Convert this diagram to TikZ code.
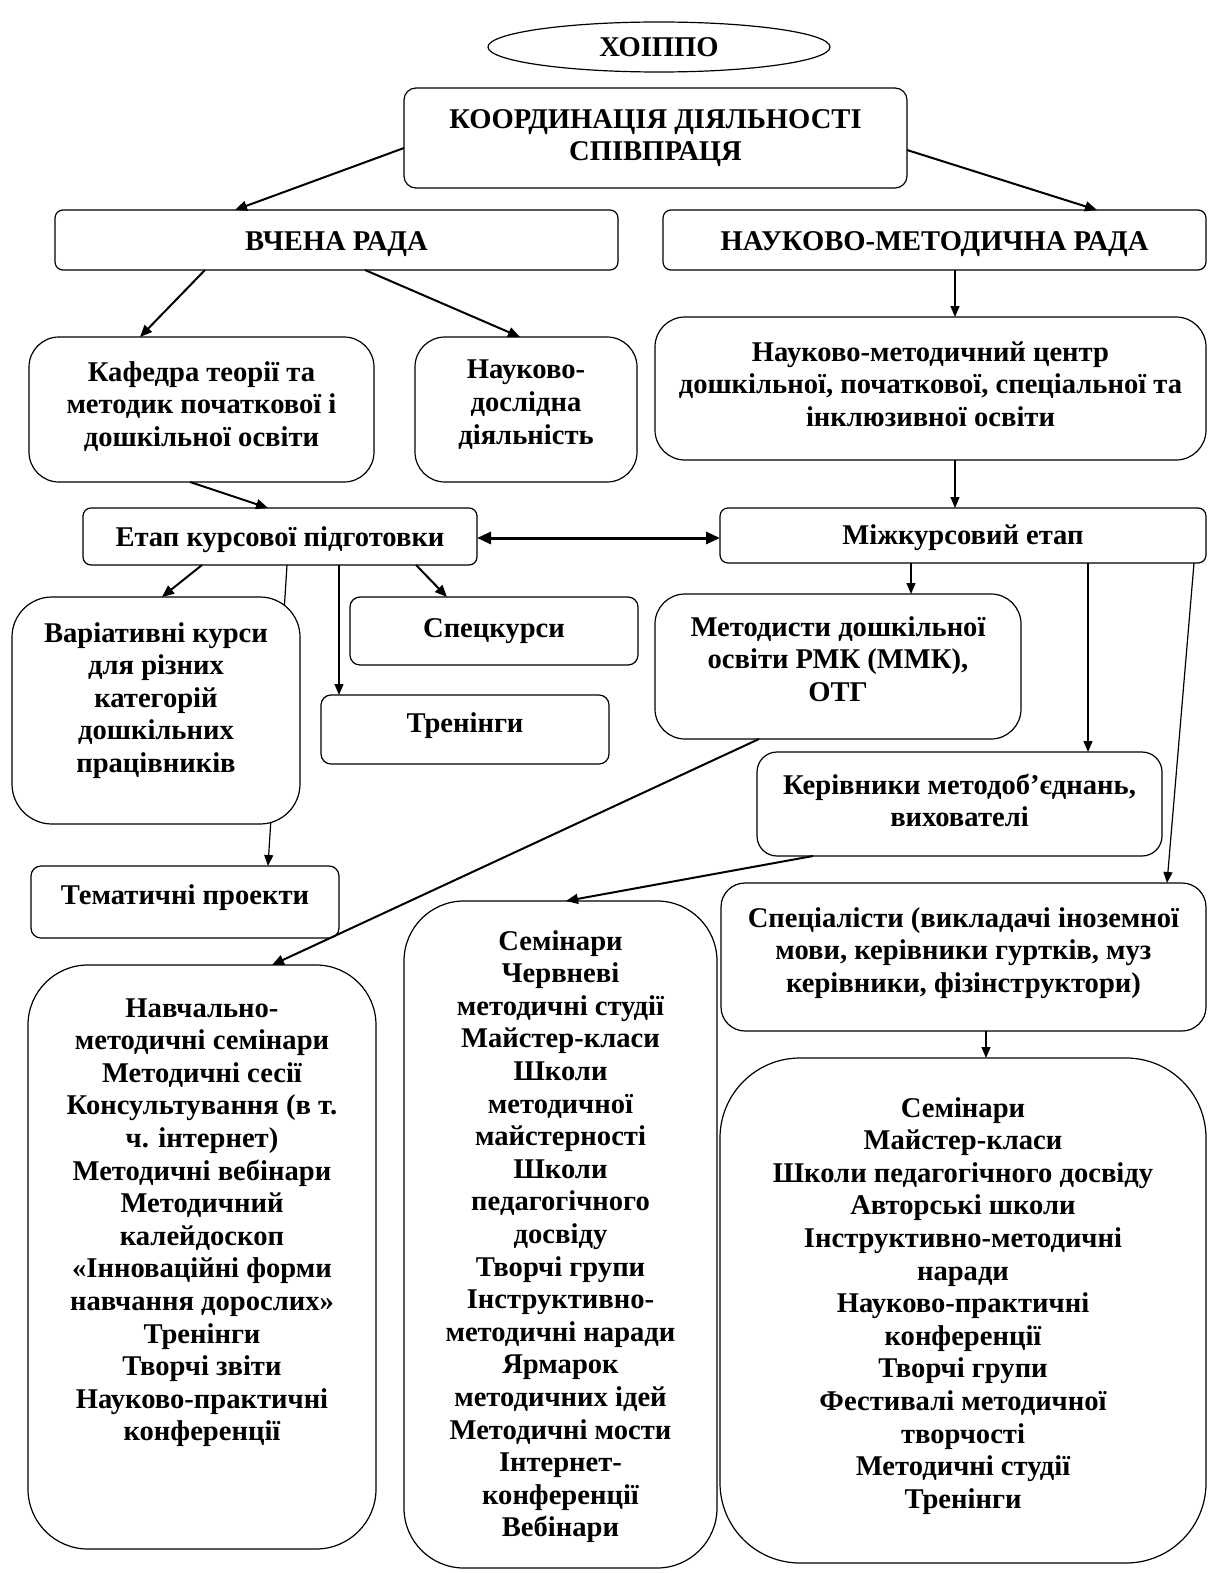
\documentclass[tikz,border=0pt]{standalone}
\usepackage{fontspec}
\setmainfont{Liberation Serif}
\usetikzlibrary{arrows.meta,calc,shapes.geometric}
\pgfdeclarelayer{bg}
\pgfsetlayers{bg,main}
\newcommand\bx[8]{%
  \node[bxs,#7,anchor=north west] (#1) at (#2,#3)
   {\parbox[c][\dimexpr(#5pt-#3pt)/2\relax][t]{\dimexpr(#4pt-#2pt)/2\relax}{\centering\vspace*{#6pt}\strut#8\par}};}
\begin{document}
\begin{tikzpicture}[x=0.5pt,y=-0.5pt,
  txt/.style={font=\fontsize{14.3pt}{16.3pt}\selectfont\bfseries},
  bxs/.style={draw,fill=white,line width=0.6pt,inner sep=0pt,outer sep=0pt,txt},
  ark/.style={-{Triangle[length=6pt,width=5pt]},line width=1pt},
  art/.style={-{Triangle[length=5.5pt,width=4.5pt]},line width=0.6pt}]
\useasboundingbox (0,0) rectangle (1208,1573);
\node[draw,ellipse,line width=0.6pt,minimum width=171pt,minimum height=25pt,inner sep=0pt,txt] (ho) at (659,47) {ХОІППО};
\bx{coord}{404}{88}{907}{188}{8.6}{rounded corners=6pt}{КООРДИНАЦІЯ ДІЯЛЬНОСТІ\\СПІВПРАЦЯ}
\bx{vr}{55}{210}{618}{270}{8.6}{rounded corners=4pt}{ВЧЕНА РАДА}
\bx{nmr}{663}{210}{1206}{270}{8.6}{rounded corners=4pt}{НАУКОВО-МЕТОДИЧНА РАДА}
\bx{kaf}{29}{337}{374}{482}{10.6}{rounded corners=15pt}{Кафедра теорії та\\методик початкової і\\дошкільної освіти}
\bx{nd}{415}{337}{637}{482}{9.5}{rounded corners=15pt}{Науково-\\дослідна\\діяльність}
\bx{nmc}{655}{317}{1206}{460}{10.6}{rounded corners=15pt}{Науково-методичний центр\\дошкільної, початкової, спеціальної та\\інклюзивної освіти}
\bx{etap}{83}{508}{477}{565}{7.6}{rounded corners=4pt}{Етап курсової підготовки}
\bx{mizh}{720}{508}{1206}{563}{6.6}{rounded corners=4pt}{Міжкурсовий етап}
\bx{var}{12}{597}{300}{824}{11.1}{rounded corners=20pt}{Варіативні курси\\для різних\\категорій\\дошкільних\\працівників}
\bx{spec}{350}{597}{638}{665}{8.6}{rounded corners=5pt}{Спецкурси}
\bx{tren}{321}{695}{609}{764}{7.1}{rounded corners=5pt}{Тренінги}
\bx{metod}{655}{594}{1021}{739}{9.6}{rounded corners=15pt}{Методисти дошкільної\\освіти РМК (ММК),\\ОТГ}
\bx{ker}{757}{752}{1162}{856}{9.6}{rounded corners=10pt}{Керівники методоб’єднань,\\вихователі}
\bx{tema}{31}{866}{339}{938}{7.6}{rounded corners=5pt}{Тематичні проекти}
\bx{spets}{721}{883}{1206}{1031}{10.6}{rounded corners=12pt}{Спеціалісти (викладачі іноземної\\мови, керівники гуртків, муз\\керівники, фізінструктори)}
\bx{navch}{28}{965}{376}{1549}{14.6}{rounded corners=30pt}{Навчально-\\методичні семінари\\Методичні сесії\\Консультування (в т.\\ч. інтернет)\\Методичні вебінари\\Методичний\\калейдоскоп\\«Інноваційні форми\\навчання дорослих»\\Тренінги\\Творчі звіти\\Науково-практичні\\конференції}
\bx{mid}{404}{901}{717}{1568}{13.1}{rounded corners=30pt}{Семінари\\Червневі\\методичні студії\\Майстер-класи\\Школи\\методичної\\майстерності\\Школи\\педагогічного\\досвіду\\Творчі групи\\Інструктивно-\\методичні наради\\Ярмарок\\методичних ідей\\Методичні мости\\Інтернет-\\конференції\\Вебінари}
\bx{br}{720}{1058}{1206}{1563}{18.1}{rounded corners=40pt}{Семінари\\Майстер-класи\\Школи педагогічного досвіду\\Авторські школи\\Інструктивно-методичні\\наради\\Науково-практичні\\конференції\\Творчі групи\\Фестивалі методичної\\творчості\\Методичні студії\\Тренінги}
% connectors
\begin{pgfonlayer}{bg}
\draw[art] ($(etap.south west)+(204,0)$) -- ($(tema.north west)+(237,0)$);
\end{pgfonlayer}
\draw[ark] ($(coord.south west)+(0,-40)$) -- ($(vr.north west)+(180,0)$);
\draw[ark] ($(coord.south east)+(0,-38)$) -- ($(nmr.north west)+(434,0)$);
\draw[ark] ($(vr.south west)+(150,0)$) -- ($(kaf.north west)+(111,0)$);
\draw[ark] ($(vr.south west)+(310,0)$) -- ($(nd.north west)+(105,0)$);
\draw[art] ($(nmr.south west)+(292,0)$) -- ($(nmc.north west)+(300,0)$);
\draw[ark] ($(kaf.south west)+(161,0)$) -- ($(etap.north west)+(185,0)$);
\draw[art] ($(nmc.south west)+(300,0)$) -- ($(mizh.north west)+(235,0)$);
\draw[{Triangle[length=7pt,width=6pt]}-{Triangle[length=7pt,width=6pt]},line width=1.5pt] ($(etap.north east)+(0,30)$) -- ($(mizh.north west)+(0,30)$);
\draw[ark] ($(etap.south west)+(119,0)$) -- ($(var.north west)+(150,0)$);
\draw[art] ($(etap.south west)+(256,0)$) -- ($(tren.north west)+(18,0)$);
\draw[ark] ($(etap.south west)+(333,0)$) -- ($(spec.north west)+(97,0)$);
\draw[art] ($(mizh.south west)+(191,0)$) -- ($(metod.north west)+(256,0)$);
\draw[art] ($(mizh.south west)+(368,0)$) -- ($(ker.north west)+(331,0)$);
\draw[art] ($(mizh.south west)+(474,0)$) -- ($(spets.north west)+(446,0)$);
\draw[ark] ($(metod.south west)+(104,0)$) -- ($(navch.north west)+(244,0)$);
\draw[ark] ($(ker.south west)+(56,0)$) -- ($(mid.north west)+(162,0)$);
\draw[art] ($(spets.south west)+(265,0)$) -- ($(br.north west)+(266,0)$);
\end{tikzpicture}
\end{document}
